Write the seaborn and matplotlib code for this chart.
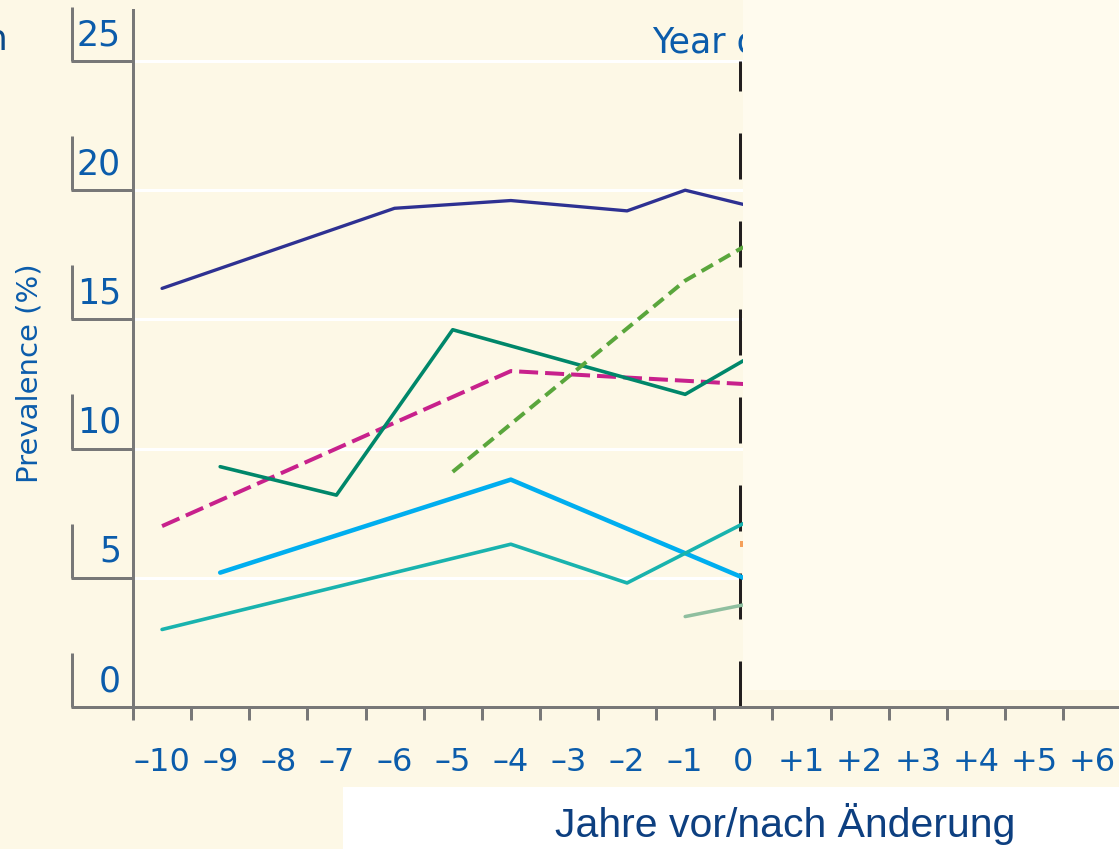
import matplotlib
matplotlib.use("Agg")
import matplotlib.pyplot as plt
import matplotlib.transforms as mtransforms
from matplotlib.patches import Rectangle
import seaborn as sns

# Werte (Prävalenz in %)
tick_years = [-10, -9, -8, -7, -6, -5, -4, -3, -2, -1, 0, 1, 2, 3, 4, 5, 6]
tick_labels = ['–10', '–9', '–8', '–7', '–6', '–5', '–4', '–3', '–2', '–1',
               '0', '+1', '+2', '+3', '+4', '+5', '+6']
y_ticks = [0, 5, 10, 15, 20, 25]

years_navy = [-10, -6, -4, -2, -1, 0]
prev_navy = [16.2, 19.3, 19.6, 19.2, 20.0, 19.45]

years_pink = [-10, -4, 0]
prev_pink = [7.0, 13.0, 12.5]

years_darkgreen = [-9, -7, -5, -1, 0]
prev_darkgreen = [9.3, 8.2, 14.6, 12.1, 13.4]

years_green = [-5, -1, 0]
prev_green = [9.1, 16.5, 17.8]

years_lightblue = [-9, -4, 0]
prev_lightblue = [5.2, 8.8, 5.0]

years_teal = [-10, -4, -2, 0]
prev_teal = [3.0, 6.3, 4.8, 7.1]

years_sage = [-1, 0]
prev_sage = [3.5, 3.95]

years_orange = [0]
prev_orange = [6.3]

PX = 0.72  # Punkte pro Pixel bei dpi=100
BG = '#fdf8e6'
GREY = '#787878'
BLUE = '#0b5cab'

sns.set_theme(style="white")
plt.rcParams['font.family'] = ['DejaVu Sans']
plt.rcParams['lines.scale_dashes'] = False

fig = plt.figure(figsize=(11.19, 8.49), dpi=100, facecolor=BG)
ax = fig.add_axes([133 / 1119, (849 - 707) / 849, (1119 - 133) / 1119, (707 - 10) / 849])
ax.set_facecolor(BG)

# Linien
series = [
    (years_navy, prev_navy, '#2e3192', 3.3, '-'),
    (years_pink, prev_pink, '#c8218c', 4.0, (0, (19 * PX, 7 * PX))),
    (years_darkgreen, prev_darkgreen, '#00876a', 3.6, '-'),
    (years_green, prev_green, '#5aa63c', 4.0, (0, (13 * PX, 7 * PX))),
    (years_lightblue, prev_lightblue, '#00aeef', 4.5, '-'),
    (years_teal, prev_teal, '#19b3ae', 3.6, '-'),
    (years_sage, prev_sage, '#8fbf9f', 3.5, '-'),
]
for xs, ys, col, lw, ls in series:
    sns.lineplot(x=xs, y=ys, color=col, linewidth=lw * PX, linestyle=ls, ax=ax, zorder=3)

sns.scatterplot(x=years_orange, y=prev_orange, color='#f5a05a', marker='s',
                s=(6 * PX) ** 2, linewidth=0, ax=ax, zorder=3)

# Jahr der Änderung (leicht links der Datenposition, wie im Original)
shift = ax.transData + mtransforms.ScaledTranslation(-3 / 100, 0, fig.dpi_scale_trans)
ax.plot([0, 0], [0, 25], transform=shift, color='#231f20', linewidth=3 * PX,
        linestyle=(0, (46 * PX, 42 * PX)), solid_capstyle='butt', zorder=2)

ax.set_xlim(-10.5, -10.5 + 986 / 58.125)
ax.set_ylim(0, 697 / 25.84)

# Achsen
for s in ['top', 'right']:
    ax.spines[s].set_visible(False)
for s in ['left', 'bottom']:
    ax.spines[s].set_color(GREY)
    ax.spines[s].set_linewidth(3 * PX)

ax.set_xticks([t - 0.5 for t in tick_years])
ax.set_xticks(tick_years, minor=True)
ax.set_xticklabels([])
ax.set_xticklabels(tick_labels, minor=True)
ax.tick_params(axis='x', which='major', bottom=True, length=13 * PX, width=3 * PX,
               color=GREY, direction='out')
ax.tick_params(axis='x', which='minor', bottom=True, length=0, pad=29, labelsize=23,
               labelcolor=BLUE)

ax.set_yticks(y_ticks)
ax.set_yticklabels([])
ax.tick_params(axis='y', which='major', left=True, length=62 * PX, width=3 * PX,
               color=GREY, direction='out')
ax.yaxis.grid(True, color='white', linewidth=3 * PX)
ax.xaxis.grid(False)
ax.set_axisbelow(True)

blend = mtransforms.blended_transform_factory(ax.transAxes, ax.transData)
for v in y_ticks:
    ax.plot([(72 - 133) / 986] * 2, [v, v + 2.1], transform=blend, color=GREY,
            linewidth=3 * PX, clip_on=False, solid_capstyle='butt')
    ax.annotate(str(v), xy=(0, v), xycoords=blend, xytext=(-12 * PX, 26 * PX),
                textcoords='offset points', ha='right', va='center',
                fontsize=25, color=BLUE, annotation_clip=False)

ax.set_xlabel('')
ax.set_ylabel('')
fig.text(30 / 1119, (849 - 373) / 849, 'Prevalence (%)', rotation=90, ha='center',
         va='center', fontsize=21, color=BLUE)

fig.text(652 / 1119, (849 - 53) / 849, 'Year of change', ha='left', va='baseline',
         fontsize=25, color=BLUE, zorder=1)
fig.text(8 / 1119, (849 - 50) / 849, 'n', ha='right', va='baseline',
         fontsize=26, color='#0a4a8a')

# Abdeckungen
fig.add_artist(Rectangle((743 / 1119, (849 - 690) / 849), 1 - 743 / 1119, 690 / 849,
                         transform=fig.transFigure, facecolor='#fffbee', edgecolor='none', zorder=5))
fig.add_artist(Rectangle((343 / 1119, 0), 1 - 343 / 1119, (849 - 787) / 849,
                         transform=fig.transFigure, facecolor='white', edgecolor='none', zorder=5))
fig.text(555 / 1119, (849 - 837) / 849, 'Jahre vor/nach Änderung', ha='left', va='baseline',
         fontsize=29.5, color='#0d3f80', family=['Liberation Sans', 'DejaVu Sans'], zorder=6)

fig.savefig('out.png', dpi=100, facecolor=BG)
